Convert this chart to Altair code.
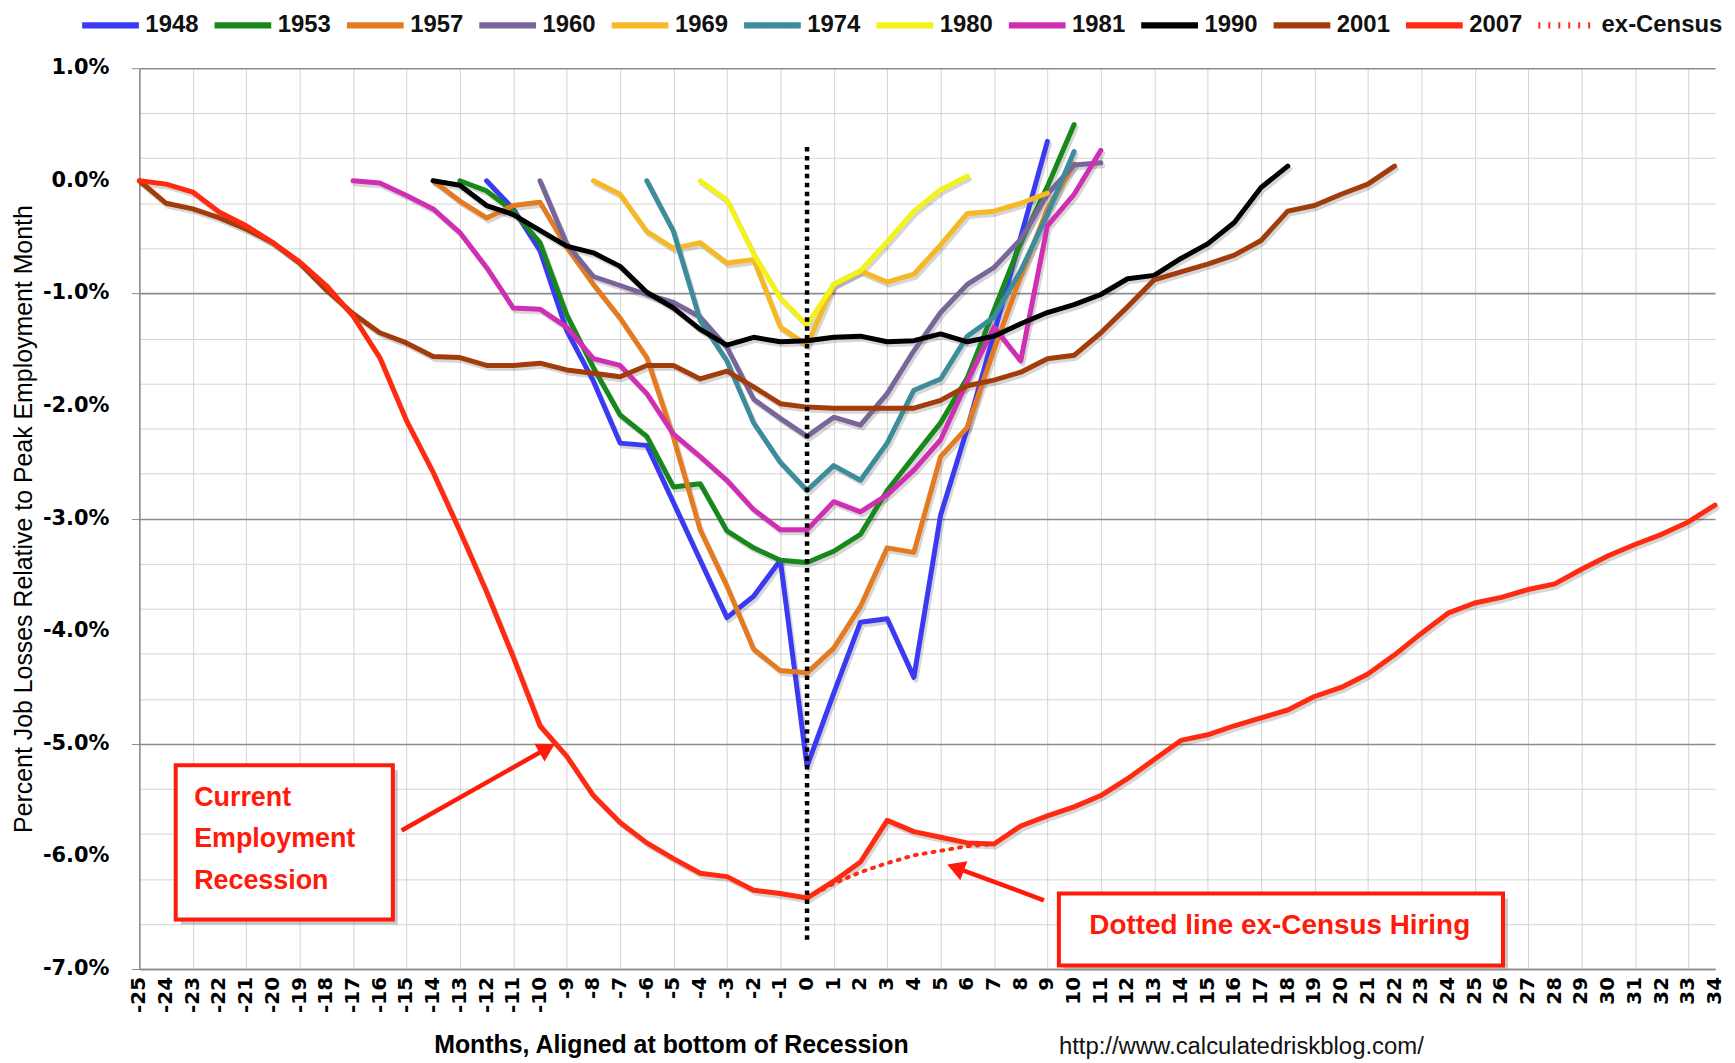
import math
import altair as alt
import pandas as pd

# ---------------- data (percent job losses relative to peak, by month aligned at trough) -------------
SERIES = ["1948", "1953", "1957", "1960", "1969", "1974", "1980", "1981", "1990", "2001", "2007", "ex-Census"]
COLORS = ["#3a3af2", "#17881b", "#e57b20", "#78669a", "#f7b826", "#3d8c9b", "#f3f31a", "#d02fb3",
          "#000000", "#a33c0b", "#ff2a10", "#ff2a10"]

start_1948 = -12
v_1948 = [0.0, -0.25, -0.62, -1.33, -1.78, -2.33, -2.35, -2.86, -3.37, -3.88, -3.69, -3.37,
          -5.2, -4.55, -3.92, -3.89, -4.41, -2.97, -2.2, -1.36, -0.5, 0.35]

start_1953 = -13
v_1953 = [0.0, -0.09, -0.27, -0.55, -1.19, -1.66, -2.08, -2.27, -2.72, -2.69, -3.11, -3.26, -3.37,
          -3.39, -3.29, -3.14, -2.75, -2.45, -2.15, -1.75, -1.15, -0.55, -0.05, 0.5]

start_1957 = -14
v_1957 = [0.0, -0.18, -0.33, -0.22, -0.19, -0.59, -0.92, -1.22, -1.57, -2.28, -3.10, -3.60, -4.16,
          -4.35, -4.37, -4.15, -3.78, -3.26, -3.30, -2.45, -2.19, -1.5, -0.85, -0.25, 0.15]

start_1960 = -10
v_1960 = [0.0, -0.56, -0.85, -0.93, -1.01, -1.08, -1.21, -1.48, -1.94, -2.11, -2.27,
          -2.10, -2.17, -1.89, -1.51, -1.17, -0.92, -0.77, -0.52, -0.12, 0.14, 0.16]

start_1969 = -8
v_1969 = [0.0, -0.12, -0.45, -0.60, -0.55, -0.73, -0.70, -1.30, -1.46,
          -0.92, -0.80, -0.90, -0.83, -0.57, -0.29, -0.27, -0.20, -0.11]

start_1974 = -6
v_1974 = [0.0, -0.45, -1.24, -1.6, -2.15, -2.5, -2.75,
          -2.53, -2.66, -2.33, -1.86, -1.76, -1.38, -1.21, -0.80, -0.30, 0.26]

start_1980 = -4
v_1980 = [0.0, -0.17, -0.65, -1.04, -1.28, -0.92, -0.80, -0.54, -0.27, -0.08, 0.04]

start_1981 = -17
v_1981 = [0.0, -0.02, -0.13, -0.25, -0.46, -0.77, -1.13, -1.14, -1.30, -1.58, -1.64, -1.89, -2.25,
          -2.45, -2.66, -2.92, -3.10, -3.10,
          -2.85, -2.94, -2.79, -2.57, -2.30, -1.78, -1.30, -1.60, -0.40, -0.12, 0.27]

start_1990 = -14
v_1990 = [0.0, -0.04, -0.22, -0.30, -0.44, -0.58, -0.64, -0.76, -0.99, -1.13, -1.32, -1.46, -1.39,
          -1.43, -1.42,
          -1.39, -1.38, -1.43, -1.42, -1.36, -1.43, -1.38, -1.27, -1.17, -1.10, -1.01, -0.87, -0.84,
          -0.69, -0.56, -0.37, -0.06, 0.13]

start_2001 = -25
v_2001 = [0.0, -0.2, -0.25, -0.33, -0.43, -0.55, -0.73, -0.97, -1.18,
          -1.35, -1.44, -1.56, -1.57, -1.64, -1.64, -1.62, -1.68, -1.71, -1.74, -1.64, -1.64, -1.76,
          -1.69, -1.83, -1.98, -2.01,
          -2.02, -2.02, -2.02, -2.02, -1.95, -1.82, -1.77, -1.70, -1.58, -1.55, -1.35, -1.12, -0.88,
          -0.81, -0.74, -0.66, -0.53, -0.27, -0.22, -0.12, -0.03, 0.13]

start_2007 = -25
v_2007 = [0.0, -0.03, -0.1, -0.28, -0.4, -0.55, -0.72, -0.93, -1.2, -1.57, -2.13, -2.59, -3.11,
          -3.65, -4.23, -4.84, -5.11, -5.46, -5.70, -5.88, -6.02, -6.15, -6.18, -6.30, -6.33,
          -6.37,
          -6.22, -6.05, -5.68, -5.78, -5.83, -5.88, -5.89, -5.73, -5.64, -5.56, -5.46, -5.31, -5.14,
          -4.97, -4.92, -4.84, -4.77, -4.70, -4.58, -4.50, -4.38, -4.21, -4.02, -3.84, -3.75, -3.70,
          -3.63, -3.58, -3.45, -3.33, -3.23, -3.14, -3.03, -2.88]

start_excensus = 0
v_excensus = [-6.37, -6.24, -6.14, -6.06, -5.99, -5.95, -5.91, -5.89]

MONTH_TICKS = list(range(-25, 35))
PCT_TICKS = [i / 5 for i in range(-35, 6)]
PCT_LABELS = [-7, -6, -5, -4, -3, -2, -1, 0, 1]

# annotations (data units)
box1 = {"x": -23.64, "x2": -15.51, "y": -5.19, "y2": -6.56}
box1_lines = ["Current", "Employment", "Recession"]
box1_text_x = -22.95
box1_text_y = [-5.48, -5.85, -6.22]
arrow1 = {"x": -15.18, "y": -5.77, "x2": -9.73, "y2": -5.04}

box2 = {"x": 9.43, "x2": 26.06, "y": -6.33, "y2": -6.97}
box2_text = "Dotted  line ex-Census Hiring"
box2_text_pos = {"x": 17.7, "y": -6.62}
arrow2 = {"x": 8.87, "y": -6.39, "x2": 5.56, "y2": -6.10}

url_text = "http://www.calculatedriskblog.com/"
url_pos = {"x": 9.43, "y": -7.69}

vline = {"x": 0, "y": 0.3, "y2": -6.75}

# ---------------- build table ----------------
rows = []
for name, start, vals in [
    ("1948", start_1948, v_1948), ("1953", start_1953, v_1953), ("1957", start_1957, v_1957),
    ("1960", start_1960, v_1960), ("1969", start_1969, v_1969), ("1974", start_1974, v_1974),
    ("1980", start_1980, v_1980), ("1981", start_1981, v_1981), ("1990", start_1990, v_1990),
    ("2001", start_2001, v_2001), ("2007", start_2007, v_2007), ("ex-Census", start_excensus, v_excensus),
]:
    for i, v in enumerate(vals):
        rows.append({"series": name, "month": start + i, "value": v})
df = pd.DataFrame(rows)

W, H = 1583, 905
PX_X = W / 59.0
PX_Y = H / 8.0

x_scale = alt.Scale(domain=[-25, 34], nice=False, zero=False)
y_scale = alt.Scale(domain=[-7, 1], nice=False, zero=False)

is_major = "abs(datum.value - round(datum.value)) < 0.01"

x_axis = alt.Axis(
    values=MONTH_TICKS, labels=False, ticks=False,
    grid=True, gridColor="#d4d4d4", gridWidth=1,
    domainColor="#8a8a8a", domainWidth=1.5,
    title="Months, Aligned at bottom of Recession", titleFont="Liberation Sans", titleFontSize=25,
    titleFontWeight="bold", titleColor="#000000", titleX=534, titleY=76, titleBaseline="middle",
    titleAlign="center",
)
y_axis = alt.Axis(
    values=PCT_TICKS, labels=False,
    ticks=True, tickSize=8,
    tickColor={"condition": {"test": is_major, "value": "#8a8a8a"}, "value": "transparent"},
    grid=True,
    gridColor={"condition": {"test": is_major, "value": "#8c8c8c"}, "value": "#d4d4d4"},
    gridWidth={"condition": {"test": is_major, "value": 1.6}, "value": 1},
    domainColor="#8a8a8a", domainWidth=1.5,
    title="Percent Job Losses Relative to Peak Employment Month", titleFont="Liberation Sans",
    titleFontSize=25, titleFontWeight="normal", titleColor="#000000",
    titleX=-116, titleY=H / 2, titleAngle=270, titleAlign="center", titleBaseline="middle",
)

width_range = [5] * 10 + [6.5]
SOLID = SERIES[:-1]

legend = alt.Legend(
    title=None, orient="none", legendX=-61, legendY=-75, direction="horizontal", columns=12,
    symbolType="stroke", symbolSize=3249, symbolStrokeWidth=6.5, labelFont="Liberation Sans",
    labelFontSize=24, labelFontWeight="bold", labelColor="#111111", labelOffset=3,
    columnPadding=2, padding=0, labelLimit=400,
    symbolDash={"expr": "datum.value === 'ex-Census' ? [2, 8] : [1, 0]"},
)

width_scale = alt.Scale(domain=SOLID, range=width_range)

solid_df = df[df.series != "ex-Census"]
dotted_df = df[df.series == "ex-Census"]

X = alt.X("month:Q", scale=x_scale, axis=x_axis)
Y = alt.Y("value:Q", scale=y_scale, axis=y_axis)

shadow = alt.Chart(solid_df).mark_line(
    color="#000000", opacity=0.16, xOffset=2, yOffset=3, strokeCap="round", strokeJoin="round"
).encode(
    x=X, y=Y, detail="series:N",
    strokeWidth=alt.StrokeWidth("series:N", scale=width_scale, legend=None),
)

lines = alt.Chart(solid_df).mark_line(strokeCap="round", strokeJoin="round").encode(
    x=X, y=Y,
    color=alt.Color("series:N", scale=alt.Scale(domain=SERIES, range=COLORS), legend=legend),
    strokeWidth=alt.StrokeWidth("series:N", scale=width_scale, legend=None),
)

dotted = alt.Chart(dotted_df).mark_line(color=COLORS[-1], strokeWidth=4, strokeDash=[2, 7],
                                        strokeCap="round").encode(x=X, y=Y)

# tick labels
xl = pd.DataFrame({"m": MONTH_TICKS, "t": [str(m) for m in MONTH_TICKS]})
x_labels = alt.Chart(xl).mark_text(angle=270, align="right", baseline="middle", font="DejaVu Sans",
                                   fontWeight="bold", fontSize=20, color="#000000").encode(
    x=alt.X("m:Q", scale=x_scale, axis=x_axis), y=alt.value(H + 8), text="t:N")
yl = pd.DataFrame({"v": PCT_LABELS, "t": [f"{v:.1f}%" for v in PCT_LABELS]})
y_labels = alt.Chart(yl).mark_text(align="right", baseline="middle", font="DejaVu Sans",
                                   fontWeight="bold", fontSize=21, color="#000000").encode(
    y=alt.Y("v:Q", scale=y_scale, axis=y_axis), x=alt.value(-30), text="t:N")

vdf = pd.DataFrame([vline])
vrule = alt.Chart(vdf).mark_rule(color="#000000", strokeWidth=4.5, strokeDash=[4.5, 4.5]).encode(
    x="x:Q", y="y:Q", y2="y2:Q")

# boxes
b1 = pd.DataFrame([box1])
b2 = pd.DataFrame([box2])
def box_layers(bdf):
    sh = alt.Chart(bdf).mark_rect(fill="#9a9a9a", opacity=0.55, xOffset=5, x2Offset=5, yOffset=5,
                                  y2Offset=5).encode(x="x:Q", x2="x2:Q", y="y:Q", y2="y2:Q")
    bx = alt.Chart(bdf).mark_rect(fill="#ffffff", stroke="#ff1a0a", strokeWidth=4).encode(
        x="x:Q", x2="x2:Q", y="y:Q", y2="y2:Q")
    return sh + bx

t1 = pd.DataFrame({"x": [box1_text_x] * 3, "y": box1_text_y, "t": box1_lines})
text1 = alt.Chart(t1).mark_text(align="left", baseline="middle", font="Liberation Sans", fontSize=27,
                                fontWeight="bold", color="#ff1a0a").encode(x="x:Q", y="y:Q", text="t:N")
t2 = pd.DataFrame([{"x": box2_text_pos["x"], "y": box2_text_pos["y"], "t": box2_text}])
text2 = alt.Chart(t2).mark_text(align="center", baseline="middle", font="Liberation Sans", fontSize=28,
                                fontWeight="bold", color="#ff1a0a").encode(x="x:Q", y="y:Q", text="t:N")

def arrow_layers(a):
    adf = pd.DataFrame([a])
    shaft = alt.Chart(adf).mark_rule(color="#ff1a0a", strokeWidth=4.5).encode(
        x="x:Q", y="y:Q", x2="x2:Q", y2="y2:Q")
    ang = math.degrees(math.atan2(-(a["y2"] - a["y"]) * PX_Y, (a["x2"] - a["x"]) * PX_X)) + 90
    ang = ang % 360
    hdf = pd.DataFrame([{"x": a["x2"], "y": a["y2"]}])
    head = alt.Chart(hdf).mark_point(shape="triangle-up", filled=True, color="#ff1a0a", size=420,
                                     opacity=1, angle=ang).encode(x="x:Q", y="y:Q")
    return shaft + head

udf = pd.DataFrame([{"x": url_pos["x"], "y": url_pos["y"], "t": url_text}])
url = alt.Chart(udf).mark_text(align="left", baseline="middle", font="Liberation Sans", fontSize=24,
                               color="#111111").encode(x="x:Q", y="y:Q", text="t:N")

chart = alt.layer(
    shadow, lines, dotted, vrule, x_labels, y_labels,
    box_layers(b1), text1, arrow_layers(arrow1),
    box_layers(b2), text2, arrow_layers(arrow2),
    url,
).properties(
    width=W, height=H,
    autosize=alt.AutoSizeParams(type="none"),
    padding={"left": 132, "top": 58, "right": 12, "bottom": 92},
    background="#ffffff",
).configure_view(stroke=None)

chart.save("out.html", embed_options={"renderer": "svg", "actions": False})
